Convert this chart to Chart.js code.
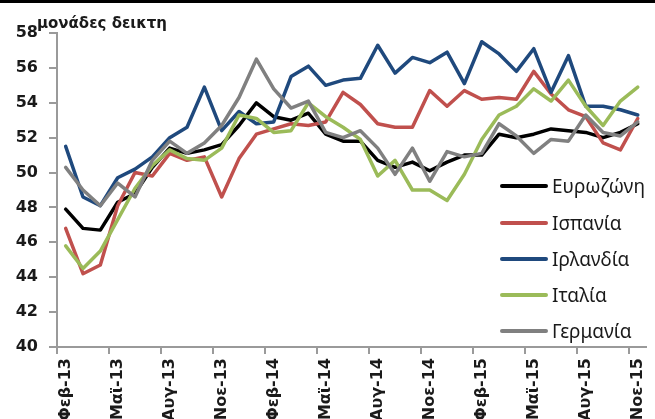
<!DOCTYPE html>
<html>
<head>
<meta charset="utf-8">
<script src="https://cdn.jsdelivr.net/npm/chart.js@4/dist/chart.umd.min.js"></script>
<style>
html,body{margin:0;padding:0;background:#fff;overflow:hidden;width:655px;height:419px;}
#wrap{position:relative;width:655px;height:419px;overflow:hidden;}
#c{position:absolute;left:0;top:0;}
#topbar{position:absolute;left:0;top:0;width:655px;height:3px;background:#000;}
#ytitle{position:absolute;left:37px;top:15px;font:bold 15px 'DejaVu Sans';color:#1a1a1a;white-space:nowrap;line-height:17px;}
#legend{position:absolute;left:500px;top:0;width:160px;height:419px;}
.item{position:absolute;left:0;height:24px;display:flex;align-items:center;white-space:nowrap;}
.swatch{width:48px;height:4px;margin-right:4px;border-radius:2px;}
.lab{font:19px 'Noto Sans';color:#1a1a1a;line-height:24px;}
</style>
</head>
<body>
<div id="wrap">
  <canvas id="c" width="661" height="419"></canvas>
  <div id="topbar"></div>
  <div id="ytitle">μονάδες δεικτη</div>
  <div id="legend"></div>
</div>
<script>
// ---- Data ----
const months = ['Φεβ-13','Μαρ-13','Απρ-13','Μαϊ-13','Ιουν-13','Ιουλ-13','Αυγ-13','Σεπ-13','Οκτ-13','Νοε-13','Δεκ-13',
  'Ιαν-14','Φεβ-14','Μαρ-14','Απρ-14','Μαϊ-14','Ιουν-14','Ιουλ-14','Αυγ-14','Σεπ-14','Οκτ-14','Νοε-14','Δεκ-14',
  'Ιαν-15','Φεβ-15','Μαρ-15','Απρ-15','Μαϊ-15','Ιουν-15','Ιουλ-15','Αυγ-15','Σεπ-15','Οκτ-15','Νοε-15'];

const seriesNames = ['Ευρωζώνη','Ισπανία','Ιρλανδία','Ιταλία','Γερμανία'];

const eurozone = [47.9,46.8,46.7,48.3,48.8,50.3,51.4,51.1,51.3,51.6,52.7,
  54.0,53.2,53.0,53.4,52.2,51.8,51.8,50.7,50.3,50.6,50.1,50.6,
  51.0,51.0,52.2,52.0,52.2,52.5,52.4,52.3,52.0,52.3,52.8];
const spain = [46.8,44.2,44.7,48.1,50.0,49.8,51.1,50.7,50.9,48.6,50.8,
  52.2,52.5,52.8,52.7,52.9,54.6,53.9,52.8,52.6,52.6,54.7,53.8,
  54.7,54.2,54.3,54.2,55.8,54.5,53.6,53.2,51.7,51.3,53.1];
const ireland = [51.5,48.6,48.1,49.7,50.2,50.9,52.0,52.6,54.9,52.4,53.5,
  52.8,52.9,55.5,56.1,55.0,55.3,55.4,57.3,55.7,56.6,56.3,56.9,
  55.1,57.5,56.8,55.8,57.1,54.6,56.7,53.8,53.8,53.6,53.3];
const italy = [45.8,44.5,45.5,47.3,49.1,50.4,51.3,50.8,50.7,51.4,53.3,
  53.1,52.3,52.4,54.0,53.2,52.6,51.9,49.8,50.7,49.0,49.0,48.4,
  49.9,51.9,53.3,53.8,54.8,54.1,55.3,53.8,52.7,54.1,54.9];
const germany = [50.3,49.0,48.1,49.4,48.6,50.7,51.8,51.1,51.7,52.7,54.3,
  56.5,54.8,53.7,54.1,52.3,52.0,52.4,51.4,49.9,51.4,49.5,51.2,
  50.9,51.1,52.8,52.1,51.1,51.9,51.8,53.3,52.3,52.1,52.9];

const yMin = 40, yMax = 58, yStep = 2;
const colors = ['#000000','#C0504D','#1F497D','#9BBB59','#808080'];
const seriesData = [eurozone, spain, ireland, italy, germany];

// ---- Chart ----
const datasets = seriesData.map((d, i) => ({
  label: seriesNames[i],
  data: d,
  borderColor: colors[i],
  backgroundColor: colors[i],
  borderWidth: 3.5,
  pointRadius: 0,
  tension: 0,
  fill: false,
  borderJoinStyle: 'round',
  borderCapStyle: 'round',
  order: seriesData.length - 1 - i
}));

const axisGray = '#9a9a9a';

new Chart(document.getElementById('c'), {
  type: 'line',
  data: { labels: months, datasets },
  options: {
    responsive: false,
    devicePixelRatio: 1,
    animation: false,
    layout: { padding: { top: 33, right: 3, left: 0, bottom: 0 } },
    plugins: { legend: { display: false }, tooltip: { enabled: false }, title: { display: false } },
    scales: {
      x: {
        type: 'category',
        offset: true,
        grid: {
          offset: true,
          drawOnChartArea: false,
          drawTicks: true,
          tickLength: 7,
          lineWidth: 2,
          color: (ctx) => (ctx.index % 3 === 0) ? axisGray : 'rgba(0,0,0,0)'
        },
        border: { display: true, color: axisGray, width: 2 },
        ticks: {
          autoSkip: false,
          maxRotation: 90,
          minRotation: 90,
          padding: 4,
          color: '#1a1a1a',
          font: { family: 'DejaVu Sans', weight: 'bold', size: 16 },
          callback: function(v, i) { return i % 3 === 0 ? months[i] : ''; }
        },
        afterFit: (s) => { s.height = 72; }
      },
      y: {
        min: yMin, max: yMax,
        ticks: {
          stepSize: yStep,
          padding: 11,
          color: '#1a1a1a',
          font: { family: 'DejaVu Sans', weight: 'bold', size: 16 }
        },
        grid: { drawOnChartArea: false, drawTicks: true, tickLength: 8, lineWidth: 2, color: axisGray },
        border: { display: true, color: axisGray, width: 2 },
        afterFit: (s) => { s.width = 57; }
      }
    }
  }
});

// ---- HTML legend built from the series ----
const legendTops = [186, 223, 259, 295, 331];
const lg = document.getElementById('legend');
seriesNames.forEach((name, i) => {
  const it = document.createElement('div');
  it.className = 'item';
  it.style.top = (legendTops[i] - 12) + 'px';
  const sw = document.createElement('div');
  sw.className = 'swatch';
  sw.style.background = colors[i];
  const lb = document.createElement('span');
  lb.className = 'lab';
  lb.textContent = name;
  it.appendChild(sw); it.appendChild(lb);
  lg.appendChild(it);
});
</script>
</body>
</html>
